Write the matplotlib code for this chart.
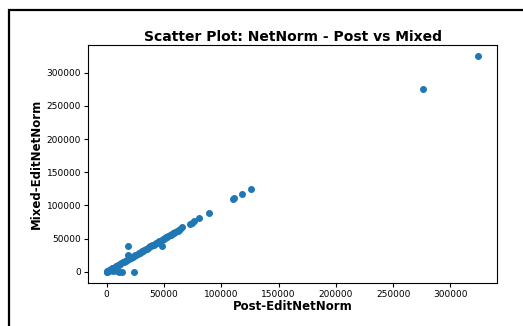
import matplotlib
matplotlib.use("Agg")
import matplotlib.pyplot as plt
from matplotlib.patches import Rectangle

# values
post_norm = [0, 300, 500, 1000, 1500, 2000, 2500, 3000, 3500, 4000, 4500, 5000,
             5500, 6000, 6000, 7000, 8000, 8000, 9000, 9500, 10000, 11000, 12000,
             13000, 14000, 15000, 16000, 17000, 18000, 19000, 19500, 20000, 21000,
             22000, 23000, 24000, 25000, 26000, 27000, 28000, 29000, 30000, 31000,
             32000, 33000, 34000, 35000, 36000, 37000, 38000, 39000, 40000, 41000,
             42000, 43000, 44000, 45000, 46000, 47000, 48000, 49000, 50000, 51000,
             52000, 53000, 54000, 55000, 56000, 57000, 58000, 59000, 60000, 61000,
             62000, 63000, 64000, 65700,
             19000, 48200, 11200, 13800, 24300,
             72900, 74500, 76400, 81000, 89500, 110700, 111500, 118300, 125600,
             275800, 324400]
mixed_norm = [0, -500, 600, 800, 1200, 2300, 1800, 3200, 3000, 4300, 3800, 5200,
              4700, 6100, 1500, 6800, 8200, 2500, 8700, 1000, 10200, 10800, 12100,
              12700, 14200, 14800, 16100, 17000, 18200, 26000, 19400, 20300, 21000,
              22100, 23000, 24200, 25000, 26100, 27000, 28100, 29000, 30200, 31000,
              32100, 33000, 34200, 35000, 36100, 37000, 38200, 39000, 40100, 41000,
              42200, 43000, 44100, 45000, 46200, 47000, 48100, 49000, 50200, 51000,
              52100, 53000, 54200, 55000, 56100, 57000, 58200, 59000, 60100, 61000,
              62200, 63000, 64100, 67000,
              38500, 39500, 0, 0, 0,
              72200, 74000, 76100, 81200, 88700, 110200, 111000, 117700, 125300,
              275600, 325300]

fig = plt.figure(figsize=(5.23, 3.26), dpi=100)
# frame of the original figure (only left and top edges are visible)
fig.patches.append(Rectangle((9 / 523, -0.1), 1.2, (326 - 10) / 326 + 0.1,
                             transform=fig.transFigure, fill=False,
                             edgecolor="black", linewidth=1.6))

ax = fig.add_axes([88 / 523, 43 / 326, 409 / 523, 238 / 326])
ax.scatter(post_norm, mixed_norm, s=16, color="#1f77b4")
ax.set_title("Scatter Plot: NetNorm - Post vs Mixed", fontsize=10, fontweight="bold", pad=3)
ax.set_xlabel("Post-EditNetNorm", fontsize=8.5, fontweight="bold", labelpad=1)
ax.set_ylabel("Mixed-EditNetNorm", fontsize=8.5, fontweight="bold", labelpad=3)
ax.tick_params(labelsize=6.5, length=3, width=0.8, pad=2)
for sp in ax.spines.values():
    sp.set_linewidth(0.8)

fig.savefig("out.png", dpi=100)
